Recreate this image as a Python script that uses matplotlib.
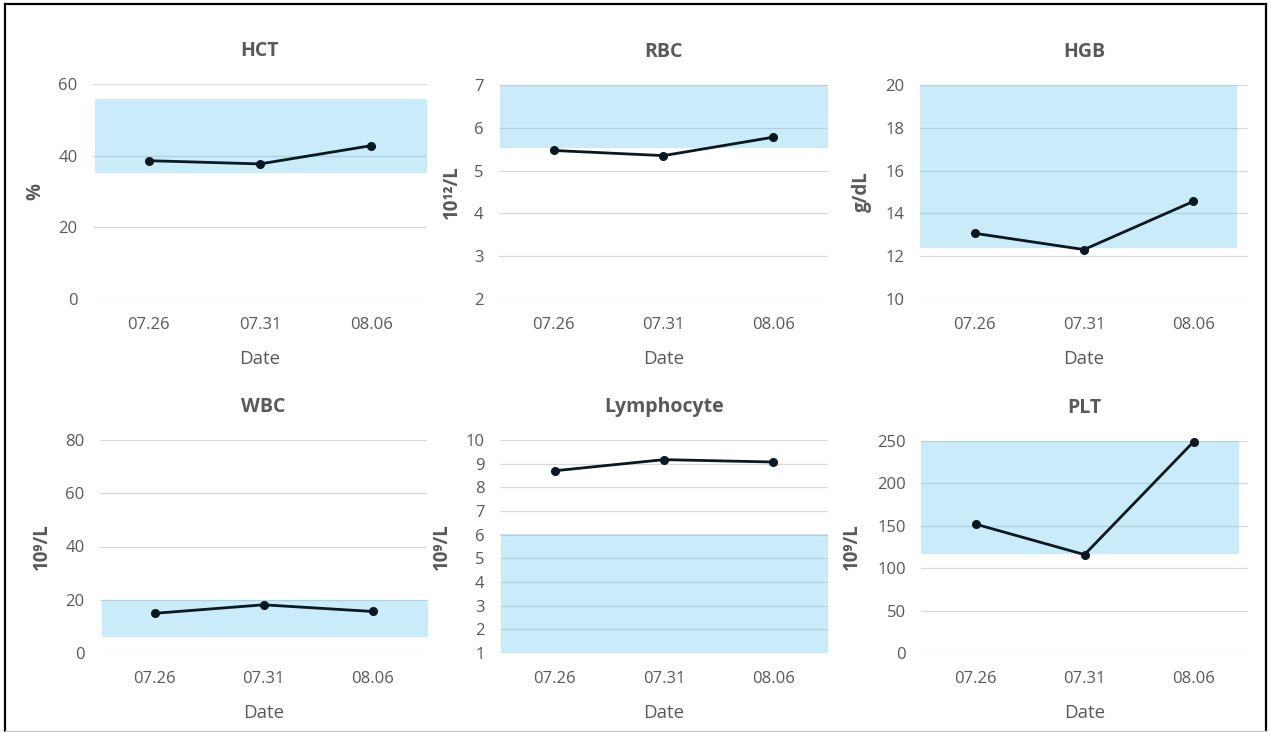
import matplotlib

matplotlib.use("Agg")

import matplotlib.pyplot as plt
import numpy as np
from matplotlib.lines import Line2D


DATES = ["07.26", "07.31", "08.06"]

TITLES = ["HCT", "RBC", "HGB", "WBC", "Lymphocyte", "PLT"]
UNITS = ["%", "10¹²/L", "g/dL", "10⁹/L", "10⁹/L", "10⁹/L"]

HCT = [38.6, 37.7, 42.8]
RBC = [5.47, 5.35, 5.78]
HGB = [13.07, 12.31, 14.56]
WBC = [14.9, 18.1, 15.6]
LYM = [8.70, 9.17, 9.07]
PLT = [152, 116, 249]

# reference ranges (shaded band)
HCT_RANGE = (35.2, 55.7)
RBC_RANGE = (5.52, 7.0)
HGB_RANGE = (12.4, 20.1)
WBC_RANGE = (5.9, 20.0)
LYM_RANGE = (1.0, 6.03)
PLT_RANGE = (116.6, 250)

Y_TICKS = [
    np.arange(0, 61, 20),
    np.arange(2, 8, 1),
    np.arange(10, 21, 2),
    np.arange(0, 81, 20),
    np.arange(1, 11, 1),
    np.arange(0, 251, 50),
]

VALUES = [HCT, RBC, HGB, WBC, LYM, PLT]
RANGES = [HCT_RANGE, RBC_RANGE, HGB_RANGE, WBC_RANGE, LYM_RANGE, PLT_RANGE]

W, H = 1271, 732
# axes boxes in pixels: left, top, right, bottom
BOXES = [
    (93, 84, 427, 299),
    (499, 85, 828, 299),
    (920, 85, 1248, 299),
    (100, 440, 427, 653),
    (500, 440, 828, 653),
    (921, 441, 1248, 653),
]
YLABEL_X = [-0.144, -0.112, -0.146, -0.147, -0.146, -0.180]
BAND_X = [(-0.48, 2.5), (-0.49, 2.5), (-0.6, 2.4), (-0.48, 2.51), (-0.49, 2.5), (-0.56, 2.42)]

FONT = ["Open Sans", "Noto Sans", "DejaVu Sans"]
TEXT_GRAY = "#595959"
LINE_COLOR = "#0a1822"

plt.rcParams["font.family"] = FONT


def main():
    fig = plt.figure(figsize=(W / 100, H / 100), dpi=100)
    x = np.arange(len(DATES))

    for i in range(6):
        left, top, right, bottom = BOXES[i]
        ax = fig.add_axes([left / W, 1 - bottom / H, (right - left) / W, (bottom - top) / H])
        ticks = Y_TICKS[i]
        lo, hi = RANGES[i]
        bx0, bx1 = BAND_X[i]

        ax.set_axisbelow(True)
        ax.grid(axis="y", color="#d9d9d9", linewidth=0.9)
        ax.fill_between([bx0, bx1], lo, hi, color="#5bc5f0", alpha=0.33, linewidth=0, zorder=1)
        ax.plot(x, VALUES[i], color=LINE_COLOR, linewidth=2.0, marker="o", markersize=5.5,
                zorder=3, clip_on=False)

        ax.set_xlim(-0.5, 2.5)
        ax.set_ylim(ticks[0], ticks[-1])
        ax.set_yticks(ticks)
        ax.set_xticks(x)
        ax.set_xticklabels(DATES)
        for s in ax.spines.values():
            s.set_visible(False)
        ax.tick_params(axis="y", length=0, pad=11, labelsize=12, labelcolor=TEXT_GRAY)
        ax.tick_params(axis="x", length=0, pad=13, labelsize=12, labelcolor=TEXT_GRAY)

        ax.set_title(TITLES[i], fontsize=14, fontweight="bold", color=TEXT_GRAY, pad=20)
        ax.set_xlabel("Date", fontsize=13.5, color=TEXT_GRAY, labelpad=12)
        ax.set_ylabel(UNITS[i], fontsize=13.5, fontweight="bold", color=TEXT_GRAY)
        ax.yaxis.set_label_coords(YLABEL_X[i], 0.5)

    # outer frame
    fig.add_artist(Line2D([4.5 / W, 4.5 / W], [1 - 731 / H, 1 - 4 / H], color="black", linewidth=1.6))
    fig.add_artist(Line2D([4.5 / W, 1266 / W], [1 - 4 / H, 1 - 4 / H], color="black", linewidth=1.6))
    fig.add_artist(Line2D([1266 / W, 1266 / W], [1 - 731 / H, 1 - 4 / H], color="black", linewidth=1.6))
    fig.add_artist(Line2D([4.5 / W, 1266 / W], [1 - 730.5 / H, 1 - 730.5 / H], color="#c8c8c8", linewidth=1.0))

    fig.savefig("out.png", dpi=100)
    plt.close(fig)


if __name__ == "__main__":
    main()
